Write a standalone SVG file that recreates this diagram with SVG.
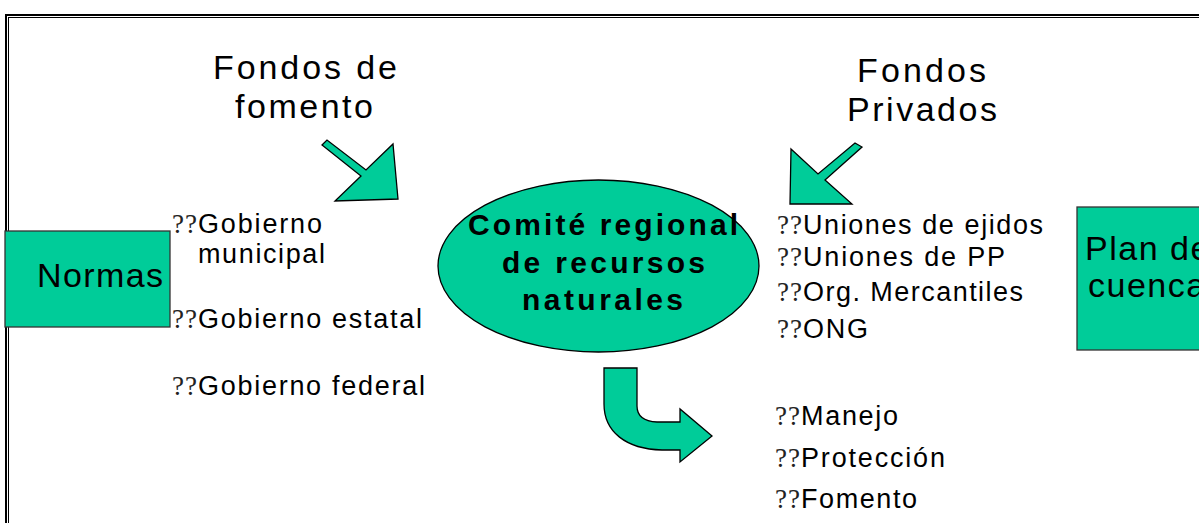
<svg xmlns="http://www.w3.org/2000/svg" width="1199" height="523" viewBox="0 0 1199 523">
<style>
.t{font-family:"Liberation Sans",Arial,sans-serif;fill:#000}
.big{font-size:34px}
.li{font-size:27px}
.q{font-family:"Liberation Serif","Times New Roman",serif;font-size:27px;fill:#222}
.b{font-family:"Liberation Sans",Arial,sans-serif;font-size:30px;font-weight:bold;fill:#000}
.g{fill:#00CC99;stroke:#000;stroke-width:1.3}
.box{fill:#00CC99;stroke:#333;stroke-width:1.3}
</style>
<rect width="1199" height="523" fill="#fff"/>
<g id="frame" fill="none" stroke="#000">
<rect x="6" y="15" width="1220" height="540" stroke-width="2"/>
<rect x="8.5" y="17.5" width="1220" height="540" stroke-width="1"/>
</g>
<g id="fondos-fomento">
<text class="t big" x="213" y="79" textLength="184" lengthAdjust="spacing">Fondos de</text>
<text class="t big" x="235" y="118" textLength="138" lengthAdjust="spacing">fomento</text>
</g>
<g id="fondos-privados">
<text class="t big" x="857" y="82" textLength="129" lengthAdjust="spacing">Fondos</text>
<text class="t big" x="847" y="121" textLength="150" lengthAdjust="spacing">Privados</text>
</g>
<g id="connectors">
<polygon class="g" points="322,145 327,140 366,170 393,144 398,199 335,201 361,176"/>
<polygon class="g" points="855,143 862,147 825,180 852,204 790,204 791,149 818,174"/>
<path class="g" d="M604,368 H637 V406 Q637,421 657,422 H680 V409 L712,436 L680,462 V450 H662 C626,449 604,432 604,404 Z"/>
</g>
<g id="normas">
<rect class="box" x="5" y="231" width="165" height="96"/>
<text class="t big" x="37" y="287" textLength="126" lengthAdjust="spacing">Normas</text>
</g>
<g id="gobierno">
<text class="q" x="172" y="233" textLength="25" lengthAdjust="spacing">??</text>
<text class="t li" x="198" y="233" textLength="124" lengthAdjust="spacing">Gobierno</text>
<text class="t li" x="198" y="263" textLength="127" lengthAdjust="spacing">municipal</text>
<text class="q" x="172" y="328" textLength="25" lengthAdjust="spacing">??</text>
<text class="t li" x="198" y="328" textLength="224" lengthAdjust="spacing">Gobierno estatal</text>
<text class="q" x="172" y="395" textLength="25" lengthAdjust="spacing">??</text>
<text class="t li" x="198" y="395" textLength="227" lengthAdjust="spacing">Gobierno federal</text>
</g>
<g id="comite">
<ellipse class="g" cx="598.5" cy="266" rx="160.5" ry="86"/>
<text class="b" x="468" y="235" textLength="270" lengthAdjust="spacing">Comité regional</text>
<text class="b" x="502" y="273" textLength="203" lengthAdjust="spacing">de recursos</text>
<text class="b" x="522" y="310" textLength="161" lengthAdjust="spacing">naturales</text>
</g>
<g id="privados-list">
<text class="q" x="777" y="234" textLength="25" lengthAdjust="spacing">??</text>
<text class="t li" x="803" y="234" textLength="240" lengthAdjust="spacing">Uniones de ejidos</text>
<text class="q" x="777" y="266" textLength="25" lengthAdjust="spacing">??</text>
<text class="t li" x="803" y="266" textLength="202" lengthAdjust="spacing">Uniones de PP</text>
<text class="q" x="777" y="301" textLength="25" lengthAdjust="spacing">??</text>
<text class="t li" x="803" y="301" textLength="220" lengthAdjust="spacing">Org. Mercantiles</text>
<text class="q" x="777" y="338" textLength="25" lengthAdjust="spacing">??</text>
<text class="t li" x="803" y="338" textLength="65" lengthAdjust="spacing">ONG</text>
</g>
<g id="plan">
<rect class="box" x="1077" y="207" width="160" height="143"/>
<text class="t big" x="1085" y="260" letter-spacing="1.5">Plan de</text>
<text class="t big" x="1088" y="297" letter-spacing="1.5">cuenca</text>
</g>
<g id="acciones">
<text class="q" x="775" y="425" textLength="25" lengthAdjust="spacing">??</text>
<text class="t li" x="801" y="425" textLength="97" lengthAdjust="spacing">Manejo</text>
<text class="q" x="775" y="467" textLength="25" lengthAdjust="spacing">??</text>
<text class="t li" x="801" y="467" textLength="144" lengthAdjust="spacing">Protección</text>
<text class="q" x="775" y="508" textLength="25" lengthAdjust="spacing">??</text>
<text class="t li" x="801" y="508" textLength="116" lengthAdjust="spacing">Fomento</text>
</g>
</svg>
